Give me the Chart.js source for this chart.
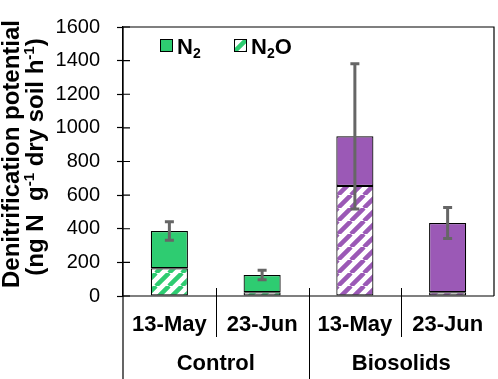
<!DOCTYPE html>
<html>
<head>
<meta charset="utf-8">
<script src="https://cdn.jsdelivr.net/npm/chart.js@4.4.0/dist/chart.umd.min.js"></script>
<style>
  html, body { margin: 0; padding: 0; background: #fff; }
  #wrap { width: 498px; height: 379px; }
</style>
</head>
<body>
<div id="wrap"><canvas id="myChart" width="498" height="379"></canvas></div>
<script>
// values (ng N g-1 dry soil h-1)
var dates = ['13-May', '23-Jun', '13-May', '23-Jun'];
var groups = ['Control', 'Biosolids'];
var n2oValues = [165, 22, 655, 22];
var n2Values = [222, 103, 295, 412];
var errValues = [55, 28, 432, 92];
var yMax = 1600;
var yStep = 200;

var barColors = ['#2ecc71', '#2ecc71', '#9b59b6', '#9b59b6'];
var FONT = "'Liberation Sans', Arial, sans-serif";

function hatch(color) {
    var s = 13;
    var c = document.createElement('canvas');
    c.width = s; c.height = s;
    var g = c.getContext('2d');
    g.fillStyle = '#fff';
    g.fillRect(0, 0, s, s);
    g.strokeStyle = color;
    g.lineWidth = 4.5;
    g.beginPath();
    for (var k = -1; k <= 1; k++) {
        g.moveTo(k * s, s);
        g.lineTo(k * s + s, 0);
    }
    g.stroke();
    return g.createPattern(c, 'repeat');
}
var patterns = barColors.map(hatch);

var decor = {
    id: 'decor',
    afterDraw: function (chart) {
        var ctx = chart.ctx, a = chart.chartArea;
        var xs = chart.scales.x, ys = chart.scales.y;
        ctx.save();
        ctx.strokeStyle = '#000';
        ctx.lineWidth = 1.2;
        // plot frame: top, right, x axis
        ctx.beginPath();
        ctx.moveTo(a.left, a.top); ctx.lineTo(a.right, a.top); ctx.lineTo(a.right, a.bottom);
        ctx.moveTo(a.left, a.bottom); ctx.lineTo(a.right, a.bottom);
        ctx.moveTo(a.left, a.top); ctx.lineTo(a.left, 379);
        ctx.stroke();
        // inner half of y ticks
        ctx.beginPath();
        for (var v = 0; v <= yMax; v += yStep) {
            var py = ys.getPixelForValue(v);
            ctx.moveTo(a.left, py); ctx.lineTo(a.left + 7, py);
        }
        ctx.stroke();
        // category separators
        ctx.lineWidth = 1;
        ctx.beginPath();
        for (var i = 1; i < dates.length; i++) {
            var sx = Math.round((xs.getPixelForValue(i - 1) + xs.getPixelForValue(i)) / 2) + 0.5;
            ctx.moveTo(sx, a.bottom - 8);
            ctx.lineTo(sx, i % 2 === 0 ? 379 : 337);
        }
        ctx.stroke();
        // date labels
        ctx.fillStyle = '#000';
        ctx.textAlign = 'center';
        ctx.textBaseline = 'middle';
        ctx.font = 'bold 22px ' + FONT;
        dates.forEach(function (d, i) {
            ctx.fillText(d, xs.getPixelForValue(i), 325);
        });
        groups.forEach(function (g, j) {
            var cx = (xs.getPixelForValue(2 * j) + xs.getPixelForValue(2 * j + 1)) / 2;
            ctx.fillText(g, cx, 364);
        });

        // error bars on totals
        ctx.strokeStyle = '#666';
        ctx.lineWidth = 3;
        ctx.beginPath();
        for (var k = 0; k < dates.length; k++) {
            var tot = n2oValues[k] + n2Values[k];
            var ex = xs.getPixelForValue(k);
            var yt = ys.getPixelForValue(tot + errValues[k]);
            var yb = ys.getPixelForValue(tot - errValues[k]);
            ctx.moveTo(ex, yt); ctx.lineTo(ex, yb);
            ctx.moveTo(ex - 4.5, yt); ctx.lineTo(ex + 4.5, yt);
            ctx.moveTo(ex - 4.5, yb); ctx.lineTo(ex + 4.5, yb);
        }
        ctx.stroke();

        // legend
        ctx.lineWidth = 1;
        ctx.strokeStyle = '#000';
        ctx.textAlign = 'left';
        ctx.textBaseline = 'alphabetic';
        ctx.fillStyle = barColors[0];
        ctx.fillRect(160, 39, 12, 12);
        ctx.strokeRect(160.5, 39.5, 12, 12);
        ctx.fillStyle = patterns[0];
        ctx.fillRect(234, 39, 12, 12);
        ctx.strokeRect(234.5, 39.5, 12, 12);
        ctx.fillStyle = '#000';
        function chem(x, y, parts) {
            parts.forEach(function (p) {
                ctx.font = 'bold ' + (p.sub ? 14 : 22) + 'px ' + FONT;
                ctx.fillText(p.t, x, p.sub ? y + 4 : y);
                x += ctx.measureText(p.t).width;
            });
        }
        chem(177, 53.5, [{t: 'N'}, {t: '2', sub: true}]);
        chem(251, 53.5, [{t: 'N'}, {t: '2', sub: true}, {t: 'O'}]);

        // y axis title, rotated, with superscripts
        ctx.rotate(-Math.PI / 2);
        ctx.textAlign = 'center';
        ctx.font = 'bold 24px ' + FONT;
        ctx.fillText('Denitrification potential', -154, 18.5);
        var parts = [
            {t: '(ng N  g'}, {t: '-1', sup: true}, {t: ' dry soil h'}, {t: '-1', sup: true}, {t: ')'}
        ];
        var w = 0;
        parts.forEach(function (p) {
            ctx.font = 'bold ' + (p.sup ? 15 : 24) + 'px ' + FONT;
            p.w = ctx.measureText(p.t).width;
            w += p.w;
        });
        ctx.textAlign = 'left';
        var x0 = -157 - w / 2;
        parts.forEach(function (p) {
            ctx.font = 'bold ' + (p.sup ? 15 : 24) + 'px ' + FONT;
            ctx.fillText(p.t, x0, p.sup ? 34 : 42.5);
            x0 += p.w;
        });
        ctx.restore();
    }
};

var ctx = document.getElementById('myChart').getContext('2d');
var myChart = new Chart(ctx, {
    type: 'bar',
    data: {
        labels: dates,
        datasets: [{
            label: 'N2O',
            data: n2oValues,
            backgroundColor: patterns,
            borderColor: '#000',
            borderWidth: 1.2,
            borderSkipped: false
        },
        {
            label: 'N2',
            data: n2Values,
            backgroundColor: barColors,
            borderColor: '#000',
            borderWidth: 1.2,
            borderSkipped: false
        }]
    },
    options: {
        responsive: false,
        animation: false,
        devicePixelRatio: 1,
        barPercentage: 0.4,
        categoryPercentage: 1,
        layout: {
            padding: { top: 11, right: 4, bottom: 83, left: 0 }
        },
        plugins: {
            legend: { display: false },
            tooltip: { enabled: false }
        },
        scales: {
            x: {
                stacked: true,
                display: false
            },
            y: {
                stacked: true,
                min: 0,
                max: yMax,
                afterFit: function (s) { s.width = 123; },
                ticks: {
                    stepSize: yStep,
                    color: '#000',
                    padding: 17,
                    font: { family: FONT, size: 20, lineHeight: 1 },
                    callback: function (v) { return String(v); }
                },
                grid: {
                    drawOnChartArea: false,
                    tickLength: 6,
                    tickColor: '#000',
                    tickWidth: 1.2
                },
                border: { color: '#000', width: 1.2 }
            }
        }
    },
    plugins: [decor]
});
</script>
</body>
</html>
